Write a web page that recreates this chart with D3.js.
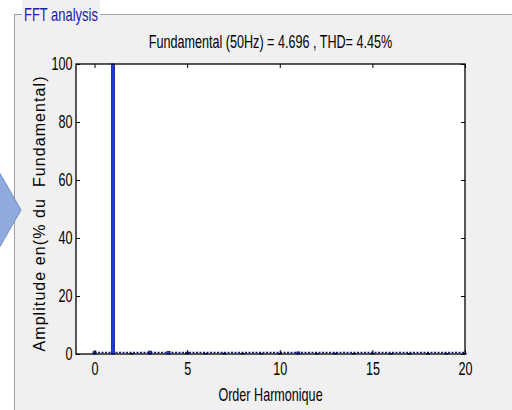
<!DOCTYPE html>
<html><head><meta charset="utf-8">
<script src="https://cdn.jsdelivr.net/npm/d3@7"></script>
<style>
body{margin:0;padding:0;background:#fff;}
svg{display:block;}
</style></head>
<body>
<svg id="c" width="512" height="410"></svg>
<script>
// Data
const harmonics = [0, 1, 2, 3, 4, 5, 6, 7, 8, 9, 10, 11, 12, 13, 14, 15, 16, 17, 18, 19, 20];
const amplitudes = [0.8, 100, 0.2, 1.0, 0.9, 0.6, 0.2, 0.3, 0.2, 0.2, 0.2, 0.7, 0.2, 0.3, 0.2, 0.2, 0.2, 0.2, 0.2, 0.2, 0.2];
const xTicks = [0, 5, 10, 15, 20];
const yTicks = [0, 20, 40, 60, 80, 100];
const titleText = "Fundamental (50Hz) = 4.696 , THD= 4.45%";
const xLabel = "Order Harmonique";
const yLabel = "Amplitude en(% du  Fundamental)";
const panelLabel = "FFT analysis";

const NARROW = 0.72;
const FONT = "'Liberation Sans',Arial,sans-serif";
const svg = d3.select("#c");

function narrowText(px, py, txt, size, color, anchor){
  const g = svg.append("g").attr("transform",`translate(${px},${py}) scale(${NARROW},1)`);
  g.append("text").attr("x",0).attr("y",0).attr("text-anchor",anchor||"start")
    .attr("font-family",FONT).attr("font-size",size).attr("fill",color).text(txt);
  return g;
}

// panel background
svg.append("rect").attr("x",14).attr("y",14).attr("width",498).attr("height",396).attr("fill","#f0f0f0");
svg.append("line").attr("x1",14.5).attr("x2",14.5).attr("y1",14).attr("y2",410).attr("stroke","#a0a0a0");
svg.append("line").attr("x1",14).attr("x2",512).attr("y1",14.5).attr("y2",14.5).attr("stroke","#a0a0a0");
// label box
svg.append("rect").attr("x",22).attr("y",0).attr("width",78).attr("height",24).attr("fill","#f0f0f0");
narrowText(24, 21, panelLabel, 18, "#1a1aa6", "start");

// arrow shape at left
svg.append("path").attr("d","M-2,170 L21,210 L-2,250 Z").attr("fill","#8faadc").attr("stroke","#6f8cc6").attr("stroke-width",1);

const L=76, R=465, T=64, B=354;
const x = d3.scaleLinear().domain([-1,20]).range([L,R]);
const y = d3.scaleLinear().domain([0,100]).range([B,T]);

svg.append("rect").attr("x",L).attr("y",T).attr("width",R-L).attr("height",B-T).attr("fill","#fff");

// baseline dotted
svg.append("line").attr("x1",x(0)).attr("x2",x(20)).attr("y1",y(0)-1.5).attr("y2",y(0)-1.5)
  .attr("stroke","#0a1478").attr("stroke-width",1.4).attr("stroke-dasharray","2,1.5");

// bars
const bw = 3;
svg.append("g").selectAll("rect").data(harmonics).join("rect")
  .attr("x",(d)=>x(d)-bw/2).attr("width",bw)
  .attr("y",(d,i)=>y(amplitudes[i]))
  .attr("height",(d,i)=>y(0)-y(amplitudes[i]))
  .attr("fill","#1f3ae0").attr("stroke","#0c1680").attr("stroke-width",0.8);

// axes (MATLAB-style inward ticks)
const tickLen = 4;
const gx = svg.append("g").attr("transform",`translate(0,${B})`)
  .call(d3.axisBottom(x).tickValues(xTicks).tickSize(-tickLen).tickPadding(9).tickFormat(d3.format("d")));
const gxt = svg.append("g").attr("transform",`translate(0,${T})`)
  .call(d3.axisTop(x).tickValues(xTicks).tickSize(-tickLen).tickFormat(""));
const gy = svg.append("g").attr("transform",`translate(${L},0)`)
  .call(d3.axisLeft(y).tickValues(yTicks).tickSize(-tickLen).tickPadding(5).tickFormat(d3.format("d")));
const gyr = svg.append("g").attr("transform",`translate(${R},0)`)
  .call(d3.axisRight(y).tickValues(yTicks).tickSize(-tickLen).tickFormat(""));
[gx,gxt,gy,gyr].forEach(g=>{
  g.select("path.domain").remove();
  g.selectAll(".tick line").attr("stroke","#000");
  g.selectAll("text").attr("font-size",17.5).attr("fill","#000").attr("font-family",FONT)
    .attr("transform",`scale(${NARROW},1)`);
});
svg.append("rect").attr("x",L).attr("y",T).attr("width",R-L).attr("height",B-T)
  .attr("fill","none").attr("stroke","#000").attr("stroke-width",1.3);

// title
narrowText((L+R)/2, 48, titleText, 17.5, "#000", "middle");
// x label
narrowText((L+R)/2, 401, xLabel, 17.5, "#000", "middle");
// y label
svg.append("text").attr("transform",`translate(45,214) rotate(-90)`).attr("text-anchor","middle")
  .attr("font-family",FONT).attr("font-size",16).attr("fill","#000")
  .attr("textLength",275).attr("lengthAdjust","spacing")
  .attr("xml:space","preserve").style("white-space","pre").text(yLabel);
</script>
</body></html>
